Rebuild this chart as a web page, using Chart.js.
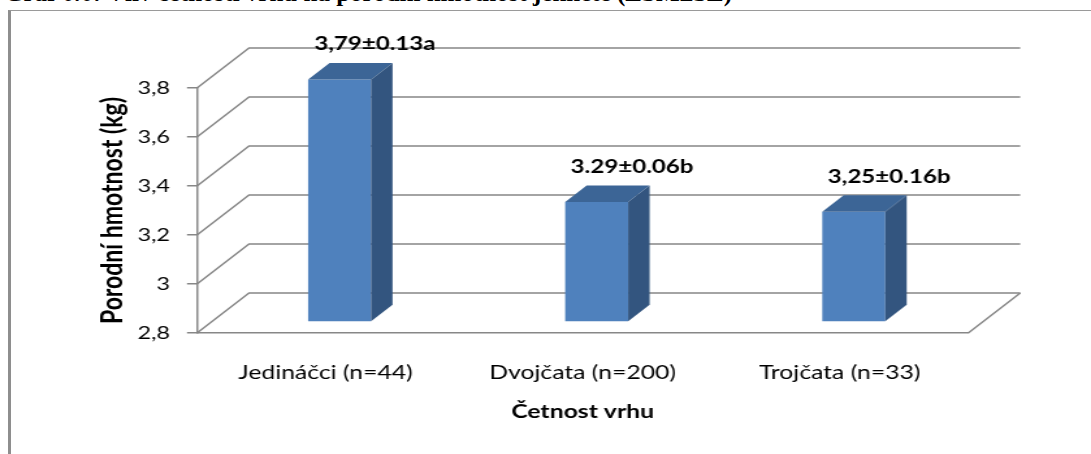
<!DOCTYPE html>
<html>
<head>
<meta charset="utf-8">
<script src="https://cdn.jsdelivr.net/npm/chart.js@4.4.1/dist/chart.umd.min.js"></script>
<style>
  body { margin: 0; background: #fff; overflow: hidden; }
  #wrap { position: relative; width: 1091px; height: 454px; overflow: hidden; }
  #frame { position: absolute; left: 8px; top: 10px; width: 2000px; height: 2000px;
           border-left: 3px solid #8e8e8e; border-top: 1px solid #9a9a9a; }
  #cap { position: absolute; left: 4px; top: -17.5px; font: bold 25px 'Liberation Serif';
         line-height: 20px; white-space: nowrap; color: #000; }
  canvas { position: absolute; left: 0; top: 0; }
</style>
</head>
<body>
<div id="wrap">
  <div id="cap">Graf 6.6: Vliv četnosti vrhu na porodní hmotnost jehňete (LSM±SE)</div>
  <div id="frame"></div>
  <!-- the source picture is stretched sideways, so the canvas is drawn narrower and widened by CSS -->
  <canvas id="chart" width="839" height="454" style="width:1091px;height:454px"></canvas>
</div>
<script>
const categories = ['Jedináčci (n=44)', 'Dvojčata (n=200)', 'Trojčata (n=33)'];
const weights = [3.79, 3.29, 3.25];
const valueLabels = ['3,79±0.13a', '3.29±0.06b', '3,25±0.16b'];
const yMin = 2.8;
const yMax = 3.8;
const yStep = 0.2;

// fake 3D (canvas px): back wall offset, bar plane offset, bar depth
const wall = { dx: 40, dy: -40 };
const barPlane = { dx: 10.8, dy: -11 };
const depth = { dx: 16.5, dy: -16.5 };
const gridColor = '#878787';

Chart.defaults.color = '#000';
Chart.defaults.font.family = 'Lato';

const box3d = {
  id: 'box3d',
  beforeDatasetsDraw(chart) {
    const { ctx, chartArea: a, scales: { y } } = chart;
    ctx.save();
    ctx.strokeStyle = gridColor;
    ctx.lineWidth = 1.5;
    y.ticks.forEach(t => {
      const py = y.getPixelForValue(t.value);
      ctx.beginPath();
      ctx.moveTo(a.left, py);
      ctx.lineTo(a.left + wall.dx, py + wall.dy);
      ctx.lineTo(a.right + wall.dx, py + wall.dy);
      ctx.stroke();
    });
    // floor right edge
    ctx.beginPath();
    ctx.moveTo(a.right, a.bottom);
    ctx.lineTo(a.right + wall.dx, a.bottom + wall.dy);
    ctx.stroke();
    ctx.restore();

    ctx.save();
    ctx.translate(barPlane.dx, barPlane.dy);
  },
  afterDatasetsDraw(chart) {
    const ctx = chart.ctx;
    const yBottom = chart.scales.y.getPixelForValue(yMin);
    const bars = chart.getDatasetMeta(0).data;
    bars.forEach(bar => {
      const l = bar.x - bar.width / 2, r = bar.x + bar.width / 2;
      const t = bar.y, b = Math.min(bar.base, yBottom);
      ctx.fillStyle = '#3c6596';
      ctx.beginPath();
      ctx.moveTo(l, t);
      ctx.lineTo(r, t);
      ctx.lineTo(r + depth.dx, t + depth.dy);
      ctx.lineTo(l + depth.dx, t + depth.dy);
      ctx.closePath();
      ctx.fill();
      ctx.fillStyle = '#33557f';
      ctx.beginPath();
      ctx.moveTo(r, t);
      ctx.lineTo(r + depth.dx, t + depth.dy);
      ctx.lineTo(r + depth.dx, b + depth.dy);
      ctx.lineTo(r, b);
      ctx.closePath();
      ctx.fill();
    });
    ctx.restore();

    ctx.save();
    ctx.font = 'bold 18.5px Lato';
    ctx.textAlign = 'center';
    ctx.textBaseline = 'middle';
    ctx.fillStyle = '#000';
    bars.forEach((bar, i) => ctx.fillText(valueLabels[i], bar.x + 38, bar.y - 46));
    ctx.restore();
  }
};

new Chart(document.getElementById('chart'), {
  type: 'bar',
  data: {
    labels: categories,
    datasets: [{
      data: weights,
      base: yMin,
      backgroundColor: '#4f81bd',
      borderWidth: 0,
      categoryPercentage: 1,
      barPercentage: 0.245
    }]
  },
  options: {
    responsive: false,
    animation: false,
    events: [],
    layout: { padding: { left: 0, right: 94.4, top: 88, bottom: 0 } },
    plugins: { legend: { display: false }, tooltip: { enabled: false } },
    scales: {
      x: {
        grid: { display: false, drawTicks: false },
        border: { display: true, color: gridColor, width: 1.5 },
        ticks: { font: { size: 19 }, padding: 28 },
        title: { display: true, text: 'Četnost vrhu', font: { size: 19, weight: 'bold' },
                 padding: { top: 0, bottom: 31 } },
        afterFit(scale) { scale.height = 121; }
      },
      y: {
        min: yMin,
        max: yMax,
        grid: { drawOnChartArea: false, drawTicks: true, tickLength: 7.7, color: gridColor, lineWidth: 1.5 },
        border: { display: true, color: gridColor, width: 1.5 },
        ticks: {
          stepSize: yStep,
          font: { size: 18 },
          padding: 13,
          callback: v => String(+v.toFixed(1)).replace('.', ',')
        },
        title: { display: true, text: 'Porodní hmotnost (kg)', font: { size: 23, weight: 'bold' },
                 padding: { top: 73, bottom: 0 } },
        afterFit(scale) { scale.width = 151.5; }
      }
    }
  },
  plugins: [box3d]
});
</script>
</body>
</html>
